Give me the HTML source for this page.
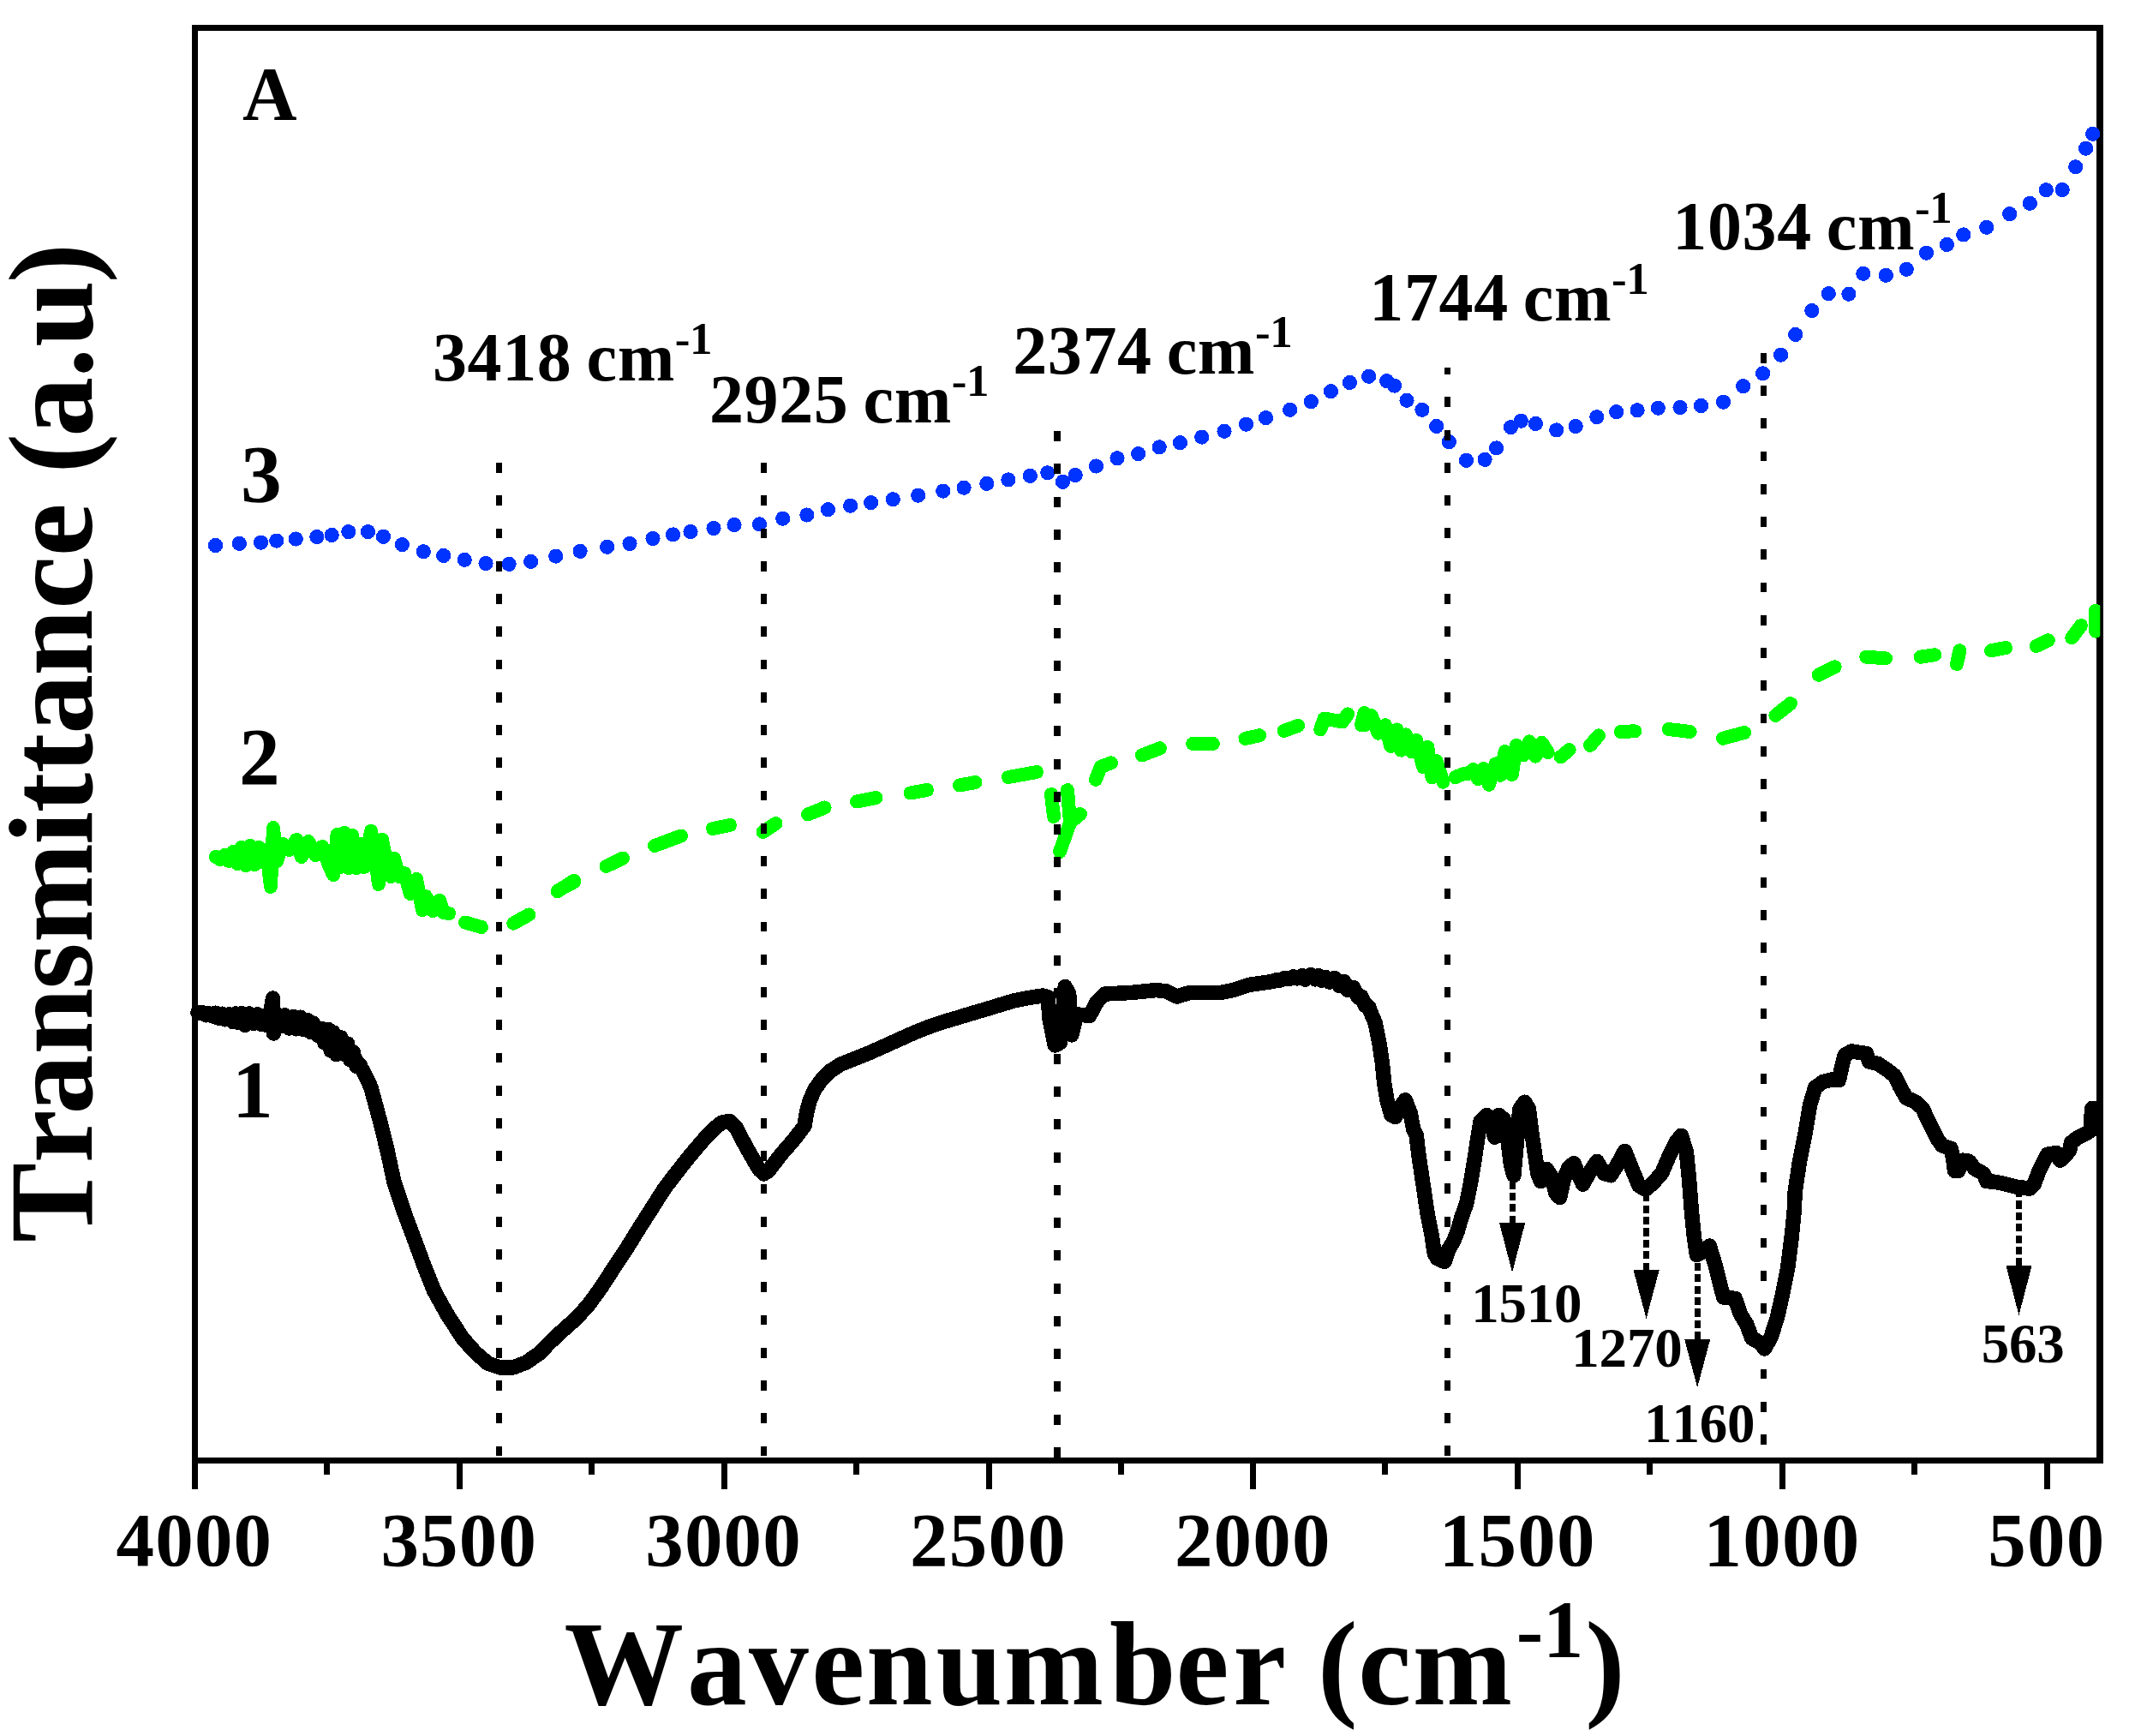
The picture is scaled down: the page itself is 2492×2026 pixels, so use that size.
<!DOCTYPE html>
<html lang="en"><head><meta charset="utf-8"><title>FTIR spectra</title>
<style>html,body{margin:0;padding:0;background:#fff}body{width:2492px;height:2026px;overflow:hidden}svg{display:block}text{font-family:"Liberation Serif", serif;font-weight:bold;fill:#000;font-kerning:none;font-variant-ligatures:none}</style>
</head><body>
<svg width="2492" height="2026" viewBox="0 0 2492 2026" shape-rendering="crispEdges">
<rect x="0" y="0" width="2492" height="2026" fill="#fff"/>
<defs><clipPath id="plot"><rect x="227.5" y="32.5" width="2223.8" height="1671.9"/></clipPath></defs>
<g stroke="#000" fill="none" stroke-linecap="square">
<path d="M227.5 32.5H2451.2M227.5 32.5V1704.4M227.5 1704.4H2451.2" stroke-width="7"/>
<path d="M2451.1 32.5V1704.4" stroke-width="8"/>
</g>
<g stroke="#000" stroke-width="7" fill="none">
<line x1="227.5" y1="1704.4" x2="227.5" y2="1738"/>
<line x1="381.5" y1="1704.4" x2="381.5" y2="1721"/>
<line x1="536.4" y1="1704.4" x2="536.4" y2="1738"/>
<line x1="690.4" y1="1704.4" x2="690.4" y2="1721"/>
<line x1="845.2" y1="1704.4" x2="845.2" y2="1738"/>
<line x1="999.2" y1="1704.4" x2="999.2" y2="1721"/>
<line x1="1154.1" y1="1704.4" x2="1154.1" y2="1738"/>
<line x1="1308.1" y1="1704.4" x2="1308.1" y2="1721"/>
<line x1="1462.9" y1="1704.4" x2="1462.9" y2="1738"/>
<line x1="1616.9" y1="1704.4" x2="1616.9" y2="1721"/>
<line x1="1771.8" y1="1704.4" x2="1771.8" y2="1738"/>
<line x1="1925.8" y1="1704.4" x2="1925.8" y2="1721"/>
<line x1="2080.6" y1="1704.4" x2="2080.6" y2="1738"/>
<line x1="2234.6" y1="1704.4" x2="2234.6" y2="1721"/>
<line x1="2389.5" y1="1704.4" x2="2389.5" y2="1738"/>
</g>
<polyline fill="none" stroke="#000" stroke-width="17.5" stroke-linejoin="round" stroke-linecap="round" points="231,1182 261.9,1186.5 284,1189.8 302.4,1188.8 315,1188 318.5,1165 319.5,1206 323,1190 335.6,1192 354,1194.8 372.5,1205 387.2,1214 402,1220.2 413,1234 424,1250 432.9,1269 442.9,1305.9 452.1,1342.8 460,1379.6 472.4,1416.5 486.2,1453.4 494.8,1476.7 506.8,1506.7 521.8,1533.7 540,1561.8 554.7,1578.3 569.5,1591.2 584.2,1596.2 599,1595.9 613.7,1590.3 628.5,1580.2 643.2,1565.4 658,1551.6 672.7,1538.7 687.5,1522.1 702.2,1501.8 717,1478.8 731.7,1456.7 746.5,1432.7 761.2,1409.7 775.9,1386.6 790.7,1367.3 805.4,1348.8 820.2,1331.3 833.1,1317.5 842.3,1310.1 851.5,1308.3 858.9,1315.7 868.1,1333.2 877.3,1349.8 886.5,1365.2 891.5,1369.8 896.5,1367 901.9,1359.8 913.7,1345 925.5,1331.5 934,1320.5 939,1313.8 941.5,1298.6 944.9,1285.1 950.8,1271.6 959.2,1259.8 969.4,1249.7 981.2,1242.1 998,1235.4 1014.9,1228.6 1031.8,1221.1 1048.6,1213.5 1065.5,1205.9 1082.3,1199.1 1099.2,1193.2 1116.1,1188.2 1132.9,1183.1 1149.8,1178.1 1166.6,1173 1183.5,1167.9 1200.4,1164.6 1217.2,1162 1223,1163.5 1225.2,1189.9 1231.2,1219.9 1237.2,1216.9 1243.2,1151.5 1247.7,1160 1250.7,1207.9 1256.7,1183.9 1271.7,1185.4 1280.6,1168.9 1289.6,1160 1319.6,1158.5 1349.6,1155.5 1361.6,1157 1373.6,1163 1388.6,1158.5 1424.5,1158.5 1439.5,1155.5 1457.5,1149.5 1483.4,1145.7 1506.8,1141 1530.3,1140.3 1553.7,1143.3 1572.4,1150.4 1586.5,1162.1 1598.2,1177.3 1605.2,1193.7 1609.9,1217.1 1613.4,1240.5 1615.7,1263.9 1619.2,1285 1623.9,1301.4 1628.6,1303.7 1634.5,1292 1640.3,1283.8 1646.2,1299.1 1649.7,1317.8 1653.2,1324.8 1655.6,1345.9 1659.1,1369.3 1662.6,1392.7 1666.1,1416.2 1670.8,1439.6 1674.3,1463 1677.8,1468.9 1686,1472.4 1690.7,1458.3 1696.5,1448.9 1701.2,1437.2 1705.9,1420.8 1711.8,1404.4 1716.4,1381 1721.1,1352.9 1724.6,1329.5 1728.1,1308.4 1735.2,1301.4 1741,1310.8 1744.5,1327.2 1749.2,1301.4 1755.1,1306.1 1759.8,1329.5 1763.3,1357.6 1766.8,1371.7 1770.3,1334.2 1773.8,1294.4 1779.7,1286.2 1784.4,1294.4 1787.9,1322.5 1791.4,1345.9 1794.9,1369.3 1798.4,1378.7 1805.4,1364.6 1811.3,1374 1816,1392.7 1820.7,1397.4 1825.3,1376.3 1831.2,1362.3 1837,1357.6 1841.7,1369.3 1847.6,1382.2 1854.6,1369.3 1864,1355.3 1872.2,1369.3 1880,1371.7 1887.5,1359.7 1896.5,1343.3 1905.5,1365.7 1913,1383.7 1920.4,1388.2 1929.4,1380.7 1939.9,1368.7 1948.9,1347.7 1956.4,1332.8 1962.4,1325.3 1968.4,1344.8 1971.4,1374.7 1974.4,1413.7 1977.4,1443.6 1980.4,1464.6 1986.3,1461.6 1995.3,1454.1 2001.3,1473.6 2007.3,1497.5 2011.8,1514 2025.3,1515.5 2031.3,1533.5 2038.8,1545.5 2044.8,1561.9 2053.7,1566.4 2059.7,1573.9 2067.2,1560.4 2074.7,1536.5 2080.7,1509.5 2086.7,1479.5 2091.2,1443.6 2094.2,1413.7 2095.2,1390.6 2100.4,1356 2107.3,1321.3 2112.5,1290.1 2118.6,1269.3 2128.1,1262.4 2138.5,1259.8 2146.3,1260.7 2149.8,1245.1 2153.3,1231.2 2161.1,1226.9 2171.5,1228.6 2178.4,1229.5 2181.9,1239 2192.3,1241.6 2202.7,1248.5 2211.3,1255.5 2218.2,1269.3 2225.2,1281.5 2235.6,1285.8 2244.2,1293.6 2249.4,1305.7 2254.6,1316.1 2260.7,1328.2 2266.8,1336.9 2277.2,1340.4 2279.8,1352.5 2281.5,1366.4 2285.8,1366.4 2291,1354.2 2298,1355.1 2304.9,1363.8 2315.3,1369.8 2318.8,1378.5 2329.2,1379.4 2341.3,1382 2353.4,1385.1 2369,1387.2 2374.2,1382 2379.4,1368.1 2384.6,1357.7 2389.8,1347.3 2400.2,1345.6 2404.6,1354.2 2410.6,1349 2415.8,1342.1 2417.6,1333.4 2424.5,1328.2 2434.9,1323 2440.1,1319.6 2441,1304 2441.8,1293.6 2446,1293.6"/>
<polyline fill="none" stroke="#000" stroke-width="17" stroke-linejoin="round" stroke-linecap="round" points="232,1182.7 236.1,1181.6 240.4,1184.8 243.3,1182.5 248.1,1186.2 251.5,1182 255.4,1188.6 259.4,1183 262.5,1190 267.4,1183.4 272,1193 274.9,1182.8 279.2,1194 282,1182.3 286,1196.6 290.9,1182.8 295.9,1194.5 300.6,1183.6 305.6,1195.9 308.7,1184.9 312,1197.1 315.9,1183.8 319.4,1196.5 323.1,1185.2 327.3,1197.8 332.3,1184.5 337.3,1200.1 342.5,1186.1 345.7,1201 350.8,1187 355,1201.9 358.3,1190.1 362.4,1204.7 365.4,1193.8 370.6,1208.6 375.3,1200.2 378.4,1216.7 383.1,1201.2 386,1226.3 388.9,1204.7 392.5,1230.7 397.7,1210.5 402.9,1231.2 405.8,1217.9 408.7,1237 412.5,1227.8 415.7,1244.4 420.5,1242.7"/>
<polyline fill="none" stroke="#000" stroke-width="17" stroke-linejoin="round" stroke-linecap="round" points="1483.4,1146.1 1488.6,1143.9 1493.5,1144.5 1498.7,1141.7 1503.8,1143 1509.7,1139.7 1514.1,1142.1 1520,1138.3 1523.6,1143.4 1530,1137.5 1535.4,1143.2 1538.9,1138.3 1542.6,1144.5 1546.8,1140 1551.7,1146.3 1557.7,1141.2 1563.1,1150.6 1568.6,1145.2 1573,1155.7 1579.5,1152.1 1585.1,1163.9 1589.3,1163 1593,1173.4 1597.7,1174.6"/>
<g fill="none" stroke="#00ff00" stroke-width="16" stroke-linecap="round" stroke-linejoin="round" clip-path="url(#plot)">
<polyline points="252,1000 257,1003 262,998 267,1005 272,994 277,1008 282,989 287,1010 292,987 297,1009 302,989 307,1006 311,992 316,1035 319,966 323,1005 330,985 338,992 346,980 352,1000 360,982 368,998 376,988 384,1010 389,1021 393.6,974 398,1012 402,972 407,1013 411,975 416,1013 420,985 425,1012 429,990 433,970 438,1000 442,1032 446,980 450,1000 456,1023 460,1002 466,1023 472,1019 479,1043 486,1026 493,1062 497,1046 505,1063 513,1051 518,1065 524,1066"/>
<polyline points="1227,927 1230,953"/>
<polyline points="1246,922 1249,960 1261,950"/>
<polyline points="1249,960 1237,994"/>
<polyline points="1541.2,851.4 1545.7,838.5 1566.7,842.4 1573.3,833.4"/>
<polyline points="1821.7,883.3 1831.7,875"/>
<polyline points="2446,736.7 2446,712.7"/>
<polyline points="1589,846 1592.5,832 1593.1,846.1 1600.5,835 1608.8,855.7 1616.9,846.1 1623.3,871 1630.4,851.5 1635.4,875.6 1640.9,857.4 1647.7,877.4 1653,863.8 1661.2,895.2 1666.3,871.8 1671.4,907.2 1676.5,888.1 1684.4,912.6"/>
<polyline points="1698.6,907.2 1706.9,903.5 1714.2,902.7 1719.7,898 1725.1,909 1731.4,897.1 1737.9,915.8 1745.7,891.4 1751.2,904.8 1756.7,877.2 1764.8,903.9 1769.8,869.8 1778.2,881.4 1785.2,865.4 1792.3,882.6 1799.6,866.8 1806.7,878.2"/>
<polyline points="543,1076.5 562,1082"/>
<polyline points="599.3,1077.6 617.3,1067.5"/>
<polyline points="651,1039.4 670,1029.3"/>
<polyline points="650.5,1040.3 670,1027.7"/>
<polyline points="707.5,1011 727,1001.5"/>
<polyline points="764,987 795,975.5"/>
<polyline points="832,967 852,963"/>
<polyline points="890.5,971 905.5,961"/>
<polyline points="943,950.5 962.5,942.5"/>
<polyline points="1000,935.5 1022.5,931"/>
<polyline points="1062.5,925.5 1082,922"/>
<polyline points="1120,916.5 1138.5,913"/>
<polyline points="1177,907 1210,901"/>
<polyline points="1278.9,909.9 1284.9,894.9 1296.9,890.4"/>
<polyline points="1332.9,881.4 1353.9,873.3"/>
<polyline points="1392.2,867.9 1415.9,867.9"/>
<polyline points="1453.4,861.9 1470.2,858.3"/>
<polyline points="1498.6,852.9 1515.1,846.9"/>
<polyline points="1856,870 1866,858.3"/>
<polyline points="1891.7,854 1908.3,853.3"/>
<polyline points="1947.7,851 1972.7,854"/>
<polyline points="2011,861.7 2036,855"/>
<polyline points="2072.3,835 2090,821"/>
<polyline points="2122.7,787.7 2141.7,778.3"/>
<polyline points="2178.3,766.7 2201,768.3"/>
<polyline points="2241.7,766.7 2258.3,764.3"/>
<polyline points="2284,775 2287.3,759.3"/>
<polyline points="2324,759.3 2341,756"/>
<polyline points="2376.7,754 2390.7,747.3"/>
<polyline points="2418.3,744.3 2429,730"/>
</g>
<g fill="#0033ff" stroke="none" clip-path="url(#plot)">
<circle cx="251.5" cy="636.5" r="8.6"/>
<circle cx="279.4" cy="634.4" r="8.6"/>
<circle cx="304.5" cy="633.2" r="8.6"/>
<circle cx="322.8" cy="631.1" r="8.6"/>
<circle cx="345.3" cy="629" r="8.6"/>
<circle cx="369.9" cy="626.6" r="8.6"/>
<circle cx="387.3" cy="624.5" r="8.6"/>
<circle cx="406.8" cy="620.6" r="8.6"/>
<circle cx="429.5" cy="620.6" r="8.6"/>
<circle cx="447.5" cy="626.3" r="8.6"/>
<circle cx="469.4" cy="635.6" r="8.6"/>
<circle cx="494.3" cy="643.7" r="8.6"/>
<circle cx="517.7" cy="648.5" r="8.6"/>
<circle cx="542.2" cy="653.3" r="8.6"/>
<circle cx="567.1" cy="657.5" r="8.6"/>
<circle cx="594.1" cy="658.4" r="8.6"/>
<circle cx="619.6" cy="655.4" r="8.6"/>
<circle cx="648.7" cy="649.1" r="8.6"/>
<circle cx="677.1" cy="643.4" r="8.6"/>
<circle cx="708.6" cy="638.3" r="8.6"/>
<circle cx="735" cy="634.4" r="8.6"/>
<circle cx="762" cy="628.4" r="8.6"/>
<circle cx="785.6" cy="623.9" r="8.6"/>
<circle cx="806" cy="620.6" r="8.6"/>
<circle cx="833" cy="616.4" r="8.6"/>
<circle cx="857" cy="612.6" r="8.6"/>
<circle cx="886.5" cy="611.8" r="8.6"/>
<circle cx="913.7" cy="605.2" r="8.6"/>
<circle cx="941.9" cy="601" r="8.6"/>
<circle cx="966.5" cy="594.7" r="8.6"/>
<circle cx="992.6" cy="590.2" r="8.6"/>
<circle cx="1016.6" cy="586.6" r="8.6"/>
<circle cx="1042.3" cy="582.7" r="8.6"/>
<circle cx="1071.7" cy="578.2" r="8.6"/>
<circle cx="1100.8" cy="573.1" r="8.6"/>
<circle cx="1125.1" cy="569.2" r="8.6"/>
<circle cx="1151.8" cy="564.4" r="8.6"/>
<circle cx="1176.9" cy="559.9" r="8.6"/>
<circle cx="1202.4" cy="555.4" r="8.6"/>
<circle cx="1222.8" cy="551.8" r="8.6"/>
<circle cx="1240.5" cy="562.3" r="8.6"/>
<circle cx="1255.2" cy="554.5" r="8.6"/>
<circle cx="1279.4" cy="544" r="8.6"/>
<circle cx="1304" cy="534.7" r="8.6"/>
<circle cx="1328.6" cy="529.6" r="8.6"/>
<circle cx="1353.2" cy="521.8" r="8.6"/>
<circle cx="1377.5" cy="516.7" r="8.6"/>
<circle cx="1402.7" cy="510.1" r="8.6"/>
<circle cx="1429" cy="503.3" r="8.6"/>
<circle cx="1454.5" cy="495.2" r="8.6"/>
<circle cx="1477.5" cy="487.6" r="8.6"/>
<circle cx="1505.6" cy="478.3" r="8.6"/>
<circle cx="1530.4" cy="468.7" r="8.6"/>
<circle cx="1553.5" cy="456.7" r="8.6"/>
<circle cx="1575.4" cy="446.5" r="8.6"/>
<circle cx="1597.6" cy="439.3" r="8.6"/>
<circle cx="1618.6" cy="444.7" r="8.6"/>
<circle cx="1627.6" cy="450.1" r="8.6"/>
<circle cx="1642" cy="467.2" r="8.6"/>
<circle cx="1659.9" cy="478.3" r="8.6"/>
<circle cx="1676.7" cy="497.5" r="8.6"/>
<circle cx="1691.4" cy="515.7" r="8.6"/>
<circle cx="1711.5" cy="537.3" r="8.6"/>
<circle cx="1733.1" cy="536.4" r="8.6"/>
<circle cx="1746.6" cy="522.9" r="8.6"/>
<circle cx="1763.4" cy="498.6" r="8.6"/>
<circle cx="1775.3" cy="491.2" r="8.6"/>
<circle cx="1792.4" cy="494.5" r="8.6"/>
<circle cx="1816.7" cy="501.9" r="8.6"/>
<circle cx="1839.2" cy="497.5" r="8.6"/>
<circle cx="1863.8" cy="486.7" r="8.6"/>
<circle cx="1886.6" cy="480.7" r="8.6"/>
<circle cx="1911.1" cy="478.8" r="8.6"/>
<circle cx="1935.3" cy="476.2" r="8.6"/>
<circle cx="1961.1" cy="475.5" r="8.6"/>
<circle cx="1985.5" cy="473.5" r="8.6"/>
<circle cx="2011.5" cy="469.2" r="8.6"/>
<circle cx="2034.7" cy="450.7" r="8.6"/>
<circle cx="2057.6" cy="435.8" r="8.6"/>
<circle cx="2078.6" cy="414.2" r="8.6"/>
<circle cx="2095.7" cy="390.5" r="8.6"/>
<circle cx="2114.9" cy="362.6" r="8.6"/>
<circle cx="2134.3" cy="342.6" r="8.6"/>
<circle cx="2157.9" cy="343.2" r="8.6"/>
<circle cx="2174.8" cy="319.3" r="8.6"/>
<circle cx="2201.4" cy="321.3" r="8.6"/>
<circle cx="2225.3" cy="314.3" r="8.6"/>
<circle cx="2248.5" cy="295.2" r="8.6"/>
<circle cx="2272.4" cy="285.5" r="8.6"/>
<circle cx="2291.8" cy="273.9" r="8.6"/>
<circle cx="2318.7" cy="265.3" r="8.6"/>
<circle cx="2345.6" cy="249.7" r="8.6"/>
<circle cx="2369.4" cy="237.3" r="8.6"/>
<circle cx="2388.3" cy="221.7" r="8.6"/>
<circle cx="2407.2" cy="221.5" r="8.6"/>
<circle cx="2422.7" cy="194.8" r="8.6"/>
<circle cx="2434.6" cy="173.2" r="8.6"/>
<circle cx="2442.6" cy="156.3" r="8.6"/>
</g>
<g stroke="#000" fill="none" stroke-dasharray="11.8 26.45">
<line x1="582.4" y1="540" x2="582.4" y2="1701" stroke-width="6.9" stroke-dashoffset="0"/>
<line x1="891.5" y1="540" x2="891.5" y2="1701" stroke-width="6.9" stroke-dashoffset="0"/>
<line x1="1234" y1="503.2" x2="1234" y2="1701" stroke-width="7.9" stroke-dashoffset="0"/>
<line x1="1689.6" y1="429" x2="1689.6" y2="1701" stroke-width="6.9" stroke-dashoffset="3.8"/>
<line x1="2058.5" y1="411.9" x2="2058.5" y2="1686" stroke-width="6.9" stroke-dashoffset="0"/>
</g>
<g stroke="#000" stroke-width="7" fill="none" stroke-dasharray="9.2 4.2">
<line x1="1765.1" y1="1427.7" x2="1765.1" y2="1372"/>
<line x1="1921.6" y1="1482.7" x2="1921.6" y2="1390"/>
<line x1="1981.2" y1="1563.3" x2="1981.2" y2="1466"/>
<line x1="2356.5" y1="1477.5" x2="2356.5" y2="1390"/>
</g>
<g fill="#000" stroke="none">
<polygon points="1750,1427.2 1780.2,1427.2 1765.1,1485.1"/>
<polygon points="1906.5,1482.2 1936.7,1482.2 1921.6,1539"/>
<polygon points="1966.1,1562.8 1996.3,1562.8 1981.2,1619.3"/>
<polygon points="2341.4,1477 2371.6,1477 2356.5,1535"/>
</g>
<text x="226.9" y="1826.5" font-size="89" text-anchor="middle" style="letter-spacing:1.2px">4000</text>
<text x="535.8" y="1826.5" font-size="89" text-anchor="middle" style="letter-spacing:1.2px">3500</text>
<text x="844.6" y="1826.5" font-size="89" text-anchor="middle" style="letter-spacing:1.2px">3000</text>
<text x="1153.5" y="1826.5" font-size="89" text-anchor="middle" style="letter-spacing:1.2px">2500</text>
<text x="1462.3" y="1826.5" font-size="89" text-anchor="middle" style="letter-spacing:1.2px">2000</text>
<text x="1771.2" y="1826.5" font-size="89" text-anchor="middle" style="letter-spacing:1.2px">1500</text>
<text x="2080" y="1826.5" font-size="89" text-anchor="middle" style="letter-spacing:1.2px">1000</text>
<text x="2388.9" y="1826.5" font-size="89" text-anchor="middle" style="letter-spacing:1.2px">500</text>
<text x="505" y="444.4" font-size="80" style="letter-spacing:0.6px" dx="0 0 0 0 0 -3.5">3418 cm<tspan font-size="53" dx="-0.2 -1" dy="-31">-1</tspan></text>
<text x="828" y="492.6" font-size="80" style="letter-spacing:0.6px" dx="0 0 0 0 0 -3.5">2925 cm<tspan font-size="53" dx="-0.2 -1" dy="-31">-1</tspan></text>
<text x="1182.2" y="436.4" font-size="80" style="letter-spacing:0.6px" dx="0 0 0 0 0 -3.5">2374 cm<tspan font-size="53" dx="-0.2 -1" dy="-31">-1</tspan></text>
<text x="1598.3" y="374.2" font-size="80" style="letter-spacing:0.6px" dx="0 0 0 0 0 -3.5">1744 cm<tspan font-size="53" dx="-0.2 -1" dy="-31">-1</tspan></text>
<text x="1952.3" y="291.2" font-size="80" style="letter-spacing:0.6px" dx="0 0 0 0 0 -3.5">1034 cm<tspan font-size="53" dx="-0.2 -1" dy="-31">-1</tspan></text>
<text x="1781.8" y="1543" font-size="65" text-anchor="middle" style="letter-spacing:-0.2px">1510</text>
<text x="1898.9" y="1595" font-size="65" text-anchor="middle" style="letter-spacing:-0.2px">1270</text>
<text x="1983.7" y="1682.5" font-size="65" text-anchor="middle" style="letter-spacing:-0.2px">1160</text>
<text x="2361.1" y="1590" font-size="65" text-anchor="middle" style="letter-spacing:-0.2px">563</text>
<text x="283" y="138.8" font-size="88" text-anchor="start">A</text>
<text x="281" y="585.5" font-size="95.5" text-anchor="start">3</text>
<text x="279" y="915.5" font-size="95.5" text-anchor="start">2</text>
<text x="271" y="1303.5" font-size="95.5" text-anchor="start">1</text>
<text x="658.5" y="1989.2" font-size="139.5" dx="0 3.9 2.25 3.55 1.8 4 1.6 7.05 -0.15 4.95 0 2 0.7 1.65">Wavenumber (cm<tspan font-size="94.7" dy="-55.3" dx="4.8 -0.3">-1</tspan><tspan font-size="139.5" dy="55.3" dx="1.9">)</tspan></text>
<text transform="translate(106.8 1449.9) rotate(-90)" x="0" y="0" font-size="139.5" dx="0 -0.3 -5.3 0.3 -1.65 0 -1.6 -1.4 -0.4 -1.15 -1.55 0.45 -0.6 0 0.1 -3.75 -0.7 0.9 -3.05">Transmittance (a.u)</text>
</svg>
</body></html>
